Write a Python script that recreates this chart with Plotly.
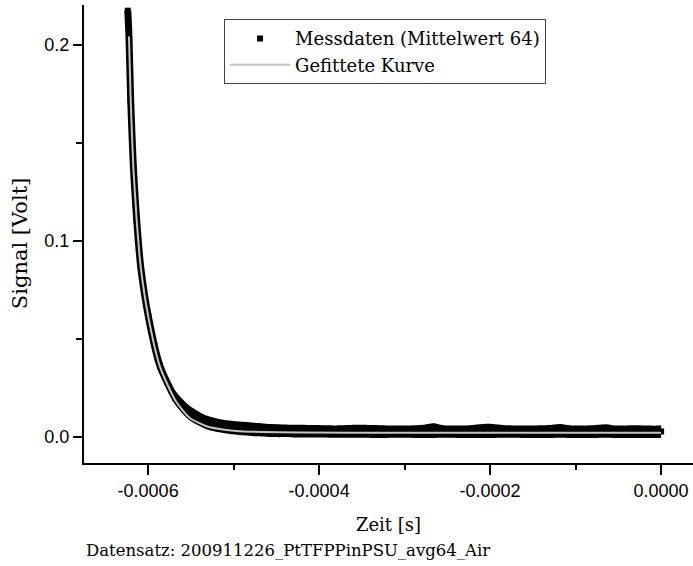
import plotly.graph_objects as go

# ---- data ----
# Messdaten (centre of the black band) and the noise envelope
x_mess = [-0.0006238, -0.0006224, -0.0006204, -0.0006173, -0.0006134, -0.0006087,
          -0.0005998, -0.0005862, -0.0005680, -0.0005516, -0.0005320, -0.0005085,
          -0.0004790, -0.0004550, -0.0004300, -0.0004050, -0.0003800, -0.0003550,
          -0.0003300, -0.0003050, -0.0002800, -0.0002660, -0.0002550, -0.0002300,
          -0.0002020, -0.0001800, -0.0001550, -0.0001300, -0.0001180, -0.0001050,
          -0.0000800, -0.0000640, -0.0000550, -0.0000300, -0.0000050, 0.0]
y_mess = [0.2175, 0.2043, 0.1719, 0.1379, 0.1107, 0.0869,
          0.0616, 0.0363, 0.0195, 0.0112, 0.0068, 0.0048,
          0.0038, 0.0034, 0.0032, 0.0031, 0.0030, 0.0030,
          0.0030, 0.0029, 0.0029, 0.0029, 0.0029, 0.0028,
          0.0028, 0.0028, 0.0028, 0.0028, 0.0028, 0.0028,
          0.0028, 0.0028, 0.0028, 0.0028, 0.0028, 0.0028]
y_upper = [0.2195, 0.2060, 0.1735, 0.1395, 0.1122, 0.0885,
           0.0640, 0.0395, 0.0235, 0.0160, 0.0110, 0.0085,
           0.0074, 0.0066, 0.0062, 0.0061, 0.0059, 0.0062,
           0.0060, 0.0058, 0.0061, 0.0070, 0.0060, 0.0059,
           0.0068, 0.0060, 0.0058, 0.0061, 0.0066, 0.0059,
           0.0060, 0.0065, 0.0059, 0.0060, 0.0058, 0.0060]
y_lower = [0.2155, 0.2025, 0.1700, 0.1360, 0.1090, 0.0850,
           0.0595, 0.0335, 0.0165, 0.0085, 0.0040, 0.0018,
           0.0005, 0.0000, -0.0002, -0.0003, -0.0004, -0.0004,
           -0.0005, -0.0004, -0.0005, -0.0005, -0.0004, -0.0005,
           -0.0005, -0.0004, -0.0005, -0.0005, -0.0004, -0.0005,
           -0.0005, -0.0004, -0.0005, -0.0005, -0.0005, -0.0005]

# Gefittete Kurve
x_fit = [-0.0006224, -0.0006204, -0.0006173, -0.0006134, -0.0006087, -0.0005998,
         -0.0005862, -0.0005679, -0.0005516, -0.0005318, -0.0005085, -0.0004793,
         -0.0004210, -0.0003044, 0.0]
y_fit = [0.2043, 0.1719, 0.1379, 0.1107, 0.0869, 0.0614,
         0.0359, 0.0185, 0.0098, 0.0055, 0.0036, 0.0027,
         0.0023, 0.0022, 0.0022]

x_tickvals = [-0.0006, -0.0004, -0.0002, 0.0]
x_ticktext = ["-0.0006", "-0.0004", "-0.0002", "0.0000"]
x_minor = [-0.0005, -0.0003, -0.0001]
y_tickvals = [0.0, 0.1, 0.2]
y_ticktext = ["0.0", "0.1", "0.2"]
y_minor = [0.05, 0.15]

name_mess = "Messdaten (Mittelwert 64)"
name_fit = "Gefittete Kurve"
x_title = "Zeit [s]"
y_title = "Signal [Volt]"
caption = "Datensatz: 200911226_PtTFPPinPSU_avg64_Air"

SERIF = "DejaVu Serif"
SANS = "Liberation Sans, Arial, sans-serif"

spline = dict(shape="spline", smoothing=0.6)

fig = go.Figure()
# noise envelope of the measured data
fig.add_trace(go.Scatter(x=x_mess, y=y_lower, mode="lines",
                         line=dict(width=0, color="black", **spline),
                         showlegend=False, hoverinfo="skip"))
fig.add_trace(go.Scatter(x=x_mess, y=y_upper, mode="lines",
                         line=dict(width=0, color="black", **spline),
                         fill="tonexty", fillcolor="black", showlegend=False, hoverinfo="skip"))
# measured data band
fig.add_trace(go.Scatter(x=x_mess, y=y_mess, mode="lines",
                         line=dict(width=7, color="black", **spline),
                         showlegend=False))
fig.add_trace(go.Scatter(x=x_mess, y=y_mess, mode="markers", name=name_mess,
                         marker=dict(symbol="square", size=6, color="black")))
# fitted curve
fig.add_trace(go.Scatter(x=x_fit, y=y_fit, mode="lines", name=name_fit,
                         line=dict(width=2, color="#c4c4c4", **spline)))

fig.update_layout(
    width=693, height=566,
    margin=dict(l=84, r=0, t=5, b=103),
    paper_bgcolor="white", plot_bgcolor="white",
    showlegend=True,
    legend=dict(x=0.23, y=0.969, xanchor="left", yanchor="top",
                traceorder="normal", itemwidth=60,
                entrywidth=275, entrywidthmode="pixels",
                bgcolor="white", bordercolor="#444", borderwidth=1,
                font=dict(family=SERIF, size=18, color="black"),
                tracegroupgap=0),
    xaxis=dict(range=[-0.000675, 0.0000373], tickmode="array",
               tickvals=x_tickvals, ticktext=x_ticktext,
               showgrid=False, zeroline=False, showline=True,
               linecolor="black", linewidth=2, ticks="outside", ticklen=10,
               tickwidth=1.5, tickcolor="black",
               tickfont=dict(family=SANS, size=18, color="black"),
               minor=dict(tickmode="array", tickvals=x_minor, ticks="outside",
                          ticklen=5, tickwidth=1.5, tickcolor="black", showgrid=False),
               title=dict(text=x_title, font=dict(family=SERIF, size=18, color="black"),
                          standoff=19)),
    yaxis=dict(range=[-0.01327, 0.2204], tickmode="array",
               tickvals=y_tickvals, ticktext=y_ticktext,
               showgrid=False, zeroline=False, showline=True,
               linecolor="black", linewidth=2, ticks="outside", ticklen=9,
               tickwidth=1.5, tickcolor="black",
               tickfont=dict(family=SANS, size=18, color="black"),
               minor=dict(tickmode="array", tickvals=y_minor, ticks="outside",
                          ticklen=6, tickwidth=1.5, tickcolor="black", showgrid=False)),
    annotations=[
        dict(text=y_title, xref="paper", yref="paper", x=-0.105, y=0.478,
             xanchor="center", yanchor="middle", textangle=-90, showarrow=False,
             font=dict(family=SERIF, size=21, color="black")),
        dict(text=caption, xref="paper", yref="paper", x=0.0, y=-0.192,
             xanchor="left", yanchor="middle", showarrow=False,
             font=dict(family=SERIF, size=16.5, color="black")),
    ],
)

fig.write_html("out.html")
